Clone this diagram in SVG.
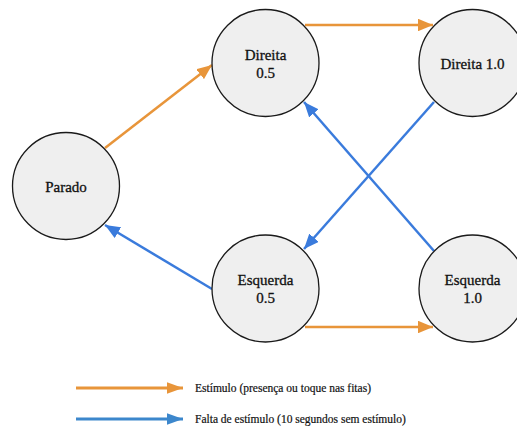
<svg xmlns="http://www.w3.org/2000/svg" width="517" height="427" viewBox="0 0 517 427">
<style>
.node circle{fill:#efefef;stroke:#1a1a1a;stroke-width:1.3}
text{font-family:'Liberation Serif','Times New Roman',serif;fill:#111;stroke:#111;stroke-width:0.3}
.node text{font-size:15px;text-anchor:middle}
.legend text{font-size:11.5px;text-anchor:start;stroke-width:0.2}
.o{stroke:#e8953a;stroke-width:2.5;fill:none}
.b{stroke:#3a7bdc;stroke-width:2.5;fill:none}
.lb{stroke:#3c87cc;stroke-width:3;fill:none}
.lo{stroke:#e8953a;stroke-width:3;fill:none}
</style>
<defs>
<marker id="ao" markerWidth="6" markerHeight="5" refX="6" refY="2.5" orient="auto" markerUnits="strokeWidth"><path d="M0,0 L6,2.5 L0,5 Z" fill="#e8953a"/></marker>
<marker id="ab" markerWidth="6" markerHeight="5" refX="6" refY="2.5" orient="auto" markerUnits="strokeWidth"><path d="M0,0 L6,2.5 L0,5 Z" fill="#3a7bdc"/></marker>
<marker id="alo" markerWidth="5.5" markerHeight="4" refX="5.5" refY="2" orient="auto" markerUnits="strokeWidth"><path d="M0,0 L5.5,2 L0,4 Z" fill="#e8953a"/></marker>
<marker id="alb" markerWidth="5.5" markerHeight="4" refX="5.5" refY="2" orient="auto" markerUnits="strokeWidth"><path d="M0,0 L5.5,2 L0,4 Z" fill="#3c87cc"/></marker>
</defs>
<g id="connectors">
<line class="o" x1="105" y1="148" x2="212" y2="65" marker-end="url(#ao)"/>
<line class="o" x1="305" y1="25" x2="433" y2="25" marker-end="url(#ao)"/>
<line class="b" x1="434" y1="102" x2="304" y2="249" marker-end="url(#ab)"/>
<line class="b" x1="434" y1="251" x2="304" y2="102" marker-end="url(#ab)"/>
<line class="b" x1="212" y1="289" x2="105" y2="225" marker-end="url(#ab)"/>
<line class="o" x1="305" y1="327" x2="433" y2="327" marker-end="url(#ao)"/>
</g>
<g id="parado" class="node"><circle cx="66" cy="186" r="53.5"/><text x="66" y="192">Parado</text></g>
<g id="direita05" class="node"><circle cx="265.5" cy="63" r="53.5"/><text x="265.5" y="60">Direita</text><text x="265.5" y="78">0.5</text></g>
<g id="direita10" class="node"><circle cx="472.5" cy="63" r="53.5"/><text x="472.5" y="69">Direita 1.0</text></g>
<g id="esquerda05" class="node"><circle cx="265.5" cy="288.5" r="53.5"/><text x="265.5" y="285">Esquerda</text><text x="265.5" y="303">0.5</text></g>
<g id="esquerda10" class="node"><circle cx="472.5" cy="288.5" r="53.5"/><text x="472.5" y="285">Esquerda</text><text x="472.5" y="303">1.0</text></g>
<g id="legend" class="legend">
<line class="lo" x1="76" y1="388" x2="183" y2="388" marker-end="url(#alo)"/>
<text x="195" y="392">Estímulo (presença ou toque nas fitas)</text>
<line class="lb" x1="76" y1="419" x2="183" y2="419" marker-end="url(#alb)"/>
<text x="195" y="423">Falta de estímulo (10 segundos sem estímulo)</text>
</g>
</svg>
